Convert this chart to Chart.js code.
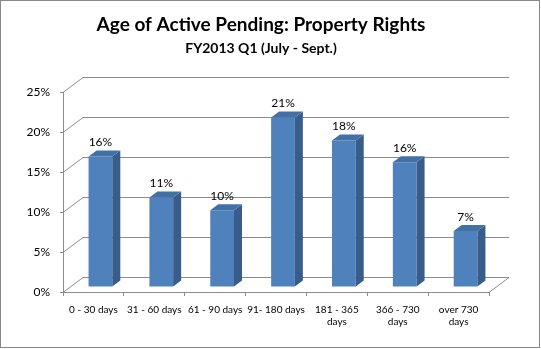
<!DOCTYPE html>
<html><head><meta charset="utf-8">
<script src="https://cdn.jsdelivr.net/npm/chart.js@4/dist/chart.umd.min.js"></script>
<style>html,body{margin:0;padding:0;background:#fff}canvas{display:block}</style>
</head><body>
<canvas id="c" width="541" height="349"></canvas>
<script>
const titleText = "Age of Active Pending: Property Rights";
const subtitleText = "FY2013 Q1 (July - Sept.)";
const categories = [["0 - 30 days"], ["31 - 60 days"], ["61 - 90 days"], ["91- 180 days"], ["181 - 365", "days"], ["366 - 730", "days"], ["over 730", "days"]];
const values = [16.3, 11.2, 9.6, 21.2, 18.3, 15.6, 7.0];
const valueLabels = ["16%", "11%", "10%", "21%", "18%", "16%", "7%"];
const yTicks = [0, 5, 10, 15, 20, 25];

const FONT = "Lato, 'Open Sans', sans-serif";
const DEPTH = {x: 20, y: -15};   // wall depth
const BAR_SHIFT = {x: 7, y: -5}; // bar plane offset
const BAR_DEPTH = {x: 8, y: -6}; // bar thickness

const threeD = {
  id: 'threeD',
  beforeDraw(chart) {
    const ctx = chart.ctx;
    ctx.save();
    ctx.fillStyle = '#fff';
    ctx.fillRect(0, 0, chart.width, chart.height);
    ctx.strokeStyle = '#888';
    ctx.lineWidth = 1;
    ctx.strokeRect(0.5, 0.5, chart.width - 2, chart.height - 2);
    ctx.fillStyle = '#000';
    ctx.textAlign = 'center';
    ctx.textBaseline = 'alphabetic';
    ctx.font = "bold 19px " + FONT;
    ctx.fillText(titleText, 261, 31);
    ctx.font = "bold 14px " + FONT;
    ctx.fillText(subtitleText, 261, 53);
    ctx.restore();
  },
  beforeDatasetsDraw(chart) {
    const ctx = chart.ctx, ys = chart.scales.y, a = chart.chartArea;
    ctx.save();
    ctx.strokeStyle = '#8c8c8c';
    ctx.lineWidth = 1;
    ctx.beginPath();
    yTicks.forEach(v => {
      const y = Math.round(ys.getPixelForValue(v)) + 0.5;
      ctx.moveTo(a.left + DEPTH.x, y + DEPTH.y);
      ctx.lineTo(a.right + DEPTH.x, y + DEPTH.y);
      ctx.moveTo(a.left, y);
      ctx.lineTo(a.left + DEPTH.x, y + DEPTH.y);
    });
    const yb = Math.round(ys.getPixelForValue(0)) + 0.5;
    ctx.moveTo(a.right, yb);
    ctx.lineTo(a.right + DEPTH.x, yb + DEPTH.y);
    ctx.stroke();
    ctx.restore();
    ctx.save();
    ctx.translate(BAR_SHIFT.x, BAR_SHIFT.y);
  },
  afterDatasetsDraw(chart) {
    const ctx = chart.ctx;
    const meta = chart.getDatasetMeta(0);
    meta.data.forEach((bar, i) => {
      const p = bar.getProps(['x', 'y', 'base', 'width'], true);
      const l = p.x - p.width / 2, r = p.x + p.width / 2, t = p.y, b = p.base;
      ctx.fillStyle = '#385d8a';
      ctx.beginPath();
      ctx.moveTo(r, t); ctx.lineTo(r + BAR_DEPTH.x, t + BAR_DEPTH.y);
      ctx.lineTo(r + BAR_DEPTH.x, b + BAR_DEPTH.y); ctx.lineTo(r, b); ctx.closePath();
      ctx.fill();
      ctx.fillStyle = '#4271a8';
      ctx.beginPath();
      ctx.moveTo(l, t); ctx.lineTo(l + BAR_DEPTH.x, t + BAR_DEPTH.y);
      ctx.lineTo(r + BAR_DEPTH.x, t + BAR_DEPTH.y); ctx.lineTo(r, t); ctx.closePath();
      ctx.fill();
      ctx.fillStyle = '#000';
      ctx.font = "12px " + FONT;
      ctx.textAlign = 'center';
      ctx.textBaseline = 'middle';
      ctx.fillText(valueLabels[i], p.x, t - 14);
    });
    ctx.restore();
  }
};

new Chart(document.getElementById('c'), {
  type: 'bar',
  data: {
    labels: categories,
    datasets: [{
      data: values,
      backgroundColor: '#4f81bd',
      borderWidth: 0,
      categoryPercentage: 1,
      barPercentage: 0.39
    }]
  },
  options: {
    responsive: false,
    animation: false,
    devicePixelRatio: 1,
    layout: {padding: {top: 92, right: 52, left: 0, bottom: 0}},
    plugins: {legend: {display: false}, title: {display: false}, tooltip: {enabled: false}},
    scales: {
      x: {
        afterFit(s) { s.height = 57; },
        grid: {drawOnChartArea: false, drawTicks: true, tickLength: 4, color: '#8c8c8c', offset: true},
        border: {display: true, color: '#8c8c8c'},
        ticks: {color: '#000', font: {family: FONT, size: 10}, maxRotation: 0, minRotation: 0, autoSkip: false, padding: 8}
      },
      y: {
        min: 0, max: 25,
        afterFit(s) { s.width = 63; },
        grid: {drawOnChartArea: false, drawTicks: true, tickLength: 3, color: '#8c8c8c'},
        border: {display: true, color: '#8c8c8c'},
        ticks: {stepSize: 5, color: '#000', font: {family: FONT, size: 12}, padding: 10, callback: v => v + '%'}
      }
    }
  },
  plugins: [threeD]
});
</script>
</body></html>
